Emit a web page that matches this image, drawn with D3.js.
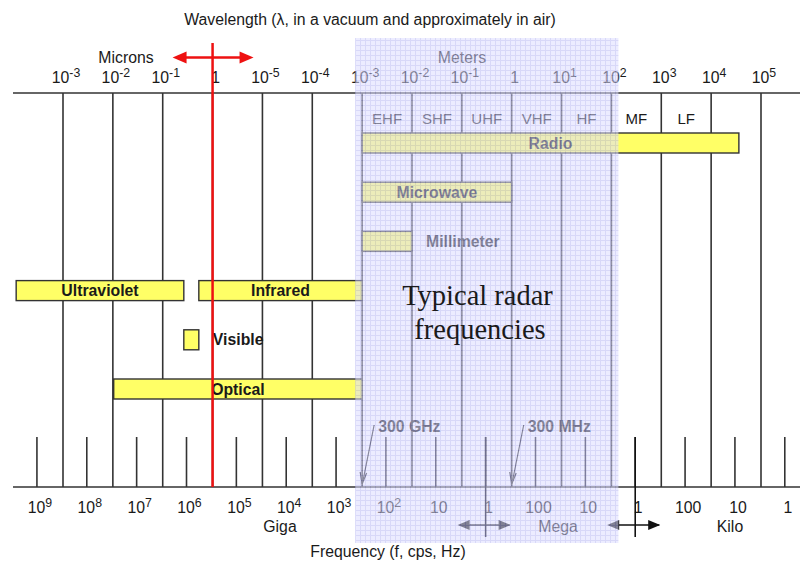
<!DOCTYPE html>
<html><head><meta charset="utf-8">
<script src="https://cdn.jsdelivr.net/npm/d3@7"></script>
<style>body{margin:0;background:#fff}svg{display:block}</style>
</head><body><svg id="c" width="800" height="562"></svg>
<script>
// wavelength decades (meters) and their labels [base, exponent]
const wlTicks = [1e-9,1e-8,1e-7,1e-6,1e-5,1e-4,1e-3,1e-2,1e-1,1,1e1,1e2,1e3,1e4,1e5];
const wlLabels = [["10","-3"],["10","-2"],["10","-1"],["1",""],["10","-5"],["10","-4"],["10","-3"],["10","-2"],["10","-1"],["1",""],["10","1"],["10","2"],["10","3"],["10","4"],["10","5"]];
// frequency decades (Hz) and labels
const fTicks = [1e18,1e17,1e16,1e15,1e14,1e13,1e12,1e11,1e10,1e9,1e8,1e7,1e6,1e5,1e4,1e3];
const fLabels = [["10","9"],["10","8"],["10","7"],["10","6"],["10","5"],["10","4"],["10","3"],["10","2"],["10",""],["1",""],["100",""],["10",""],["1",""],["100",""],["10",""],["1",""]];
// radio bands: name, wavelength range (m)
const bandNames = ["EHF","SHF","UHF","VHF","HF","MF","LF"];
const bandLo = [1e-3,1e-2,1e-1,1,10,100,1000];
const bandHi = [1e-2,1e-1,1,10,100,1000,1e4];
// spectrum bars: name, wavelength lo/hi (m), row
const barNames = ["Radio","Microwave","Millimeter","Ultraviolet","Infrared","Visible","Optical"];
const barLo = [1e-3,1e-3,1e-3,1.15e-10,5.3e-7,2.65e-7,1.04e-8];
const barHi = [3.6e4,1,1e-2,2.65e-7,1e-3,5.3e-7,1e-3];
const barRow = [0,1,2,3,3,4,5];
const barLabelInside = [true,true,false,true,true,false,true];
// frequency markers
const markerNames = ["300 GHz","300 MHz"];
const markerFreq = [3e11,3e8];
const unitFreq = [1e9,1e6];  // 1 GHz, 1 MHz arrows
const c = 3e8;

const SANS = "Liberation Sans, Arial, sans-serif";
const SERIF = "Liberation Serif, Times New Roman, serif";
const FS = 15.8;

const svg = d3.select("#c").style("font-family",SANS);
const x = d3.scaleLog().domain([1e-9,1e5]).range([63,761]);
const yRow = d3.scaleLinear().domain([0,5]).range([143,389]);
const topY = 93, botY = 487;
const lineCol = "#333";

function txt(xx, yy, s, opts={}){
  const t = svg.append("text").attr("x",xx).attr("y",yy).attr("font-size",opts.fs||FS)
    .attr("text-anchor",opts.anchor||"middle").attr("fill",opts.fill||"#1a1a1a").text(s);
  if(opts.bold) t.attr("font-weight","bold");
  return t;
}

// title
txt(370, 25, "Wavelength (λ, in a vacuum and approximately in air)");
txt(126, 63, "Microns");
txt(462, 63, "Meters");

// axes lines
svg.append("line").attr("x1",13).attr("x2",800).attr("y1",topY).attr("y2",topY).attr("stroke",lineCol).attr("stroke-width",1.6);
svg.append("line").attr("x1",13).attr("x2",800).attr("y1",botY).attr("y2",botY).attr("stroke",lineCol).attr("stroke-width",1.6);

// long wavelength lines
svg.selectAll(".wl").data(wlTicks).enter().append("line")
  .attr("x1",d=>x(d)).attr("x2",d=>x(d)).attr("y1",topY).attr("y2",botY)
  .attr("stroke",lineCol).attr("stroke-width",1.6);

function supLabel(g, lab, fs){
  const t = g.append("text").attr("text-anchor","middle").attr("font-size",fs).attr("fill","#1a1a1a");
  t.append("tspan").text(lab[0]);
  if(lab[1]) t.append("tspan").attr("dy",-fs*0.36).attr("font-size",fs*0.78).text(lab[1]);
  return t;
}
wlTicks.forEach((d,i)=>{
  const g = svg.append("g").attr("transform",`translate(${x(d)+3},83)`);
  supLabel(g, wlLabels[i], FS);
});

// frequency short ticks
fTicks.forEach((f,i)=>{
  const xx = x(c/f);
  svg.append("line").attr("x1",xx).attr("x2",xx).attr("y1",437).attr("y2",botY).attr("stroke",lineCol).attr("stroke-width",1.6);
  const g = svg.append("g").attr("transform",`translate(${xx+3},513)`);
  supLabel(g, fLabels[i], FS);
});
txt(280, 532, "Giga");
txt(558, 532, "Mega");
txt(730, 532, "Kilo");
txt(388, 557, "Frequency (f, cps, Hz)");

// unit arrows (1 GHz, 1 MHz)
function arrowHead(g, xt, y, dir, col, len, half){
  g.append("path").attr("d",`M${xt},${y} L${xt-dir*len},${y-half} L${xt-dir*len},${y+half} Z`).attr("fill",col);
}
unitFreq.forEach(f=>{
  const xx = x(c/f);
  svg.append("line").attr("x1",xx).attr("x2",xx).attr("y1",437).attr("y2",537).attr("stroke","#111").attr("stroke-width",1.6);
  svg.append("line").attr("x1",xx-26).attr("x2",xx+24).attr("y1",525).attr("y2",525).attr("stroke","#111").attr("stroke-width",1.6);
  arrowHead(svg, xx-28, 525, -1, "#111", 12, 5);
  arrowHead(svg, xx+25, 525, 1, "#111", 12, 5);
});

// band labels
bandNames.forEach((n,i)=>{
  txt((x(bandLo[i])+x(bandHi[i]))/2, 124, n, {fs:15});
});

// bars
barNames.forEach((n,i)=>{
  const x0 = x(barLo[i]), x1 = x(barHi[i]), yc = yRow(barRow[i]);
  svg.append("rect").attr("x",x0).attr("y",yc-10).attr("width",x1-x0).attr("height",20)
    .attr("fill","#ffff66").attr("stroke","#333").attr("stroke-width",1.4);
  if(barLabelInside[i]) txt((x0+x1)/2, yc+5.5, n, {bold:true});
  else txt(x1+14, yc+5.5, n, {bold:true, anchor:"start"});
});

// red 1 micron line + arrow
const xr = x(1e-6);
svg.append("line").attr("x1",xr).attr("x2",xr).attr("y1",43).attr("y2",botY).attr("stroke","#ee1111").attr("stroke-width",2.5);
svg.append("line").attr("x1",xr-30).attr("x2",xr+30).attr("y1",57.5).attr("y2",57.5).attr("stroke","#ee1111").attr("stroke-width",2.5);
arrowHead(svg, xr-40, 57.5, -1, "#ee1111", 14, 6);
arrowHead(svg, xr+41, 57.5, 1, "#ee1111", 14, 6);

// frequency markers 300 GHz / 300 MHz
markerNames.forEach((n,i)=>{
  const xx = x(c/markerFreq[i]);
  txt(xx+16, 432, n, {bold:true, anchor:"start"});
  svg.append("line").attr("x1",xx+12).attr("y1",425).attr("x2",xx+1).attr("y2",480).attr("stroke","#222").attr("stroke-width",1.2);
  svg.append("path").attr("d",`M${xx},${484} L${xx-2},${472} M${xx},${484} L${xx+4.5},${473}`).attr("stroke","#222").attr("stroke-width",1.2).attr("fill","none");
});

// overlay with grid
const defs = svg.append("defs");
const pat = defs.append("pattern").attr("id","grid").attr("width",5).attr("height",5).attr("patternUnits","userSpaceOnUse");
pat.append("rect").attr("width",5).attr("height",5).attr("fill","#dcdcff");
pat.append("path").attr("d","M0,0.5 H5 M0.5,0 V5").attr("stroke","#b8b8f2").attr("stroke-width",1);
const ox0 = x(1e-3)-7, ox1 = x(1e2)+7;
svg.append("rect").attr("x",ox0).attr("y",38).attr("width",ox1-ox0).attr("height",505)
  .attr("fill","url(#grid)").attr("opacity",0.55);

// radar text on top
txt(477.5, 305, "Typical radar", {fs:28.5}).style("font-family",SERIF);
txt(480, 339, "frequencies", {fs:28.5}).style("font-family",SERIF);
</script></body></html>
